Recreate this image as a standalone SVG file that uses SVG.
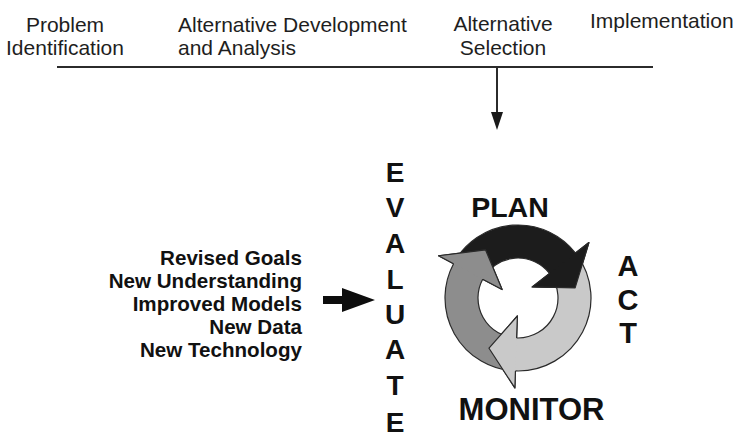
<svg xmlns="http://www.w3.org/2000/svg" xmlns:xlink="http://www.w3.org/1999/xlink" width="735" height="442" viewBox="0 0 735 442">
  <style>
    .lbl { font-family: "Liberation Sans", Arial, sans-serif; font-size: 21px; fill: #1e1e1e; }
    .bold { font-family: "Liberation Sans", Arial, sans-serif; font-weight: bold; fill: #111; }
    .lst { font-size: 20.6px; text-anchor: end; }
    .big { font-size: 28.5px; text-anchor: middle; }
    .ev { font-size: 28px; text-anchor: middle; }
    .ring { stroke: #2a2a2a; stroke-width: 1.2; stroke-linejoin: round; }
    .headedge { fill: none; stroke: #2a2a2a; stroke-width: 1.2; stroke-linejoin: round; }
    .conn { stroke: #2b2b2b; stroke-width: 2; fill: none; }
  </style>
  <defs>
    <polygon id="headTri" points="90,0 51.21,27.23 18,0"/>
    <path id="headEdge" d="M73 0 L90 0 L51.21 27.23 L18 0 L40 0"/>
  </defs>
  <rect width="735" height="442" fill="#ffffff"/>

  <g id="connectors">
    <line class="conn" x1="57" y1="67" x2="653" y2="67"/>
    <line class="conn" x1="497" y1="67" x2="497" y2="112" stroke-width="1.8"/>
    <polygon points="491,112 503,112 497,130" fill="#1a1a1a"/>
    <polygon points="323,296 342,296 342,288 375,300 342,312 342,304 323,304" fill="#0d0d0d"/>
  </g>

  <g id="problem-identification">
    <text class="lbl" x="65" y="32" text-anchor="middle">Problem</text>
    <text class="lbl" x="65" y="55" text-anchor="middle">Identification</text>
  </g>
  <g id="alternative-development">
    <text class="lbl" x="178" y="32">Alternative Development</text>
    <text class="lbl" x="178" y="55">and Analysis</text>
  </g>
  <g id="alternative-selection">
    <text class="lbl" x="503" y="31" text-anchor="middle">Alternative</text>
    <text class="lbl" x="503" y="55" text-anchor="middle">Selection</text>
  </g>
  <g id="implementation">
    <text class="lbl" x="590" y="28">Implementation</text>
  </g>

  <g id="inputs">
    <text class="bold lst" x="302" y="265">Revised Goals</text>
    <text class="bold lst" x="302" y="288">New Understanding</text>
    <text class="bold lst" x="302" y="311">Improved Models</text>
    <text class="bold lst" x="302" y="334">New Data</text>
    <text class="bold lst" x="302" y="357">New Technology</text>
  </g>

  <g id="evaluate">
    <text class="bold ev" x="395" y="182">E</text>
    <text class="bold ev" x="395" y="217">V</text>
    <text class="bold ev" x="395" y="253">A</text>
    <text class="bold ev" x="395" y="289">L</text>
    <text class="bold ev" x="395" y="324">U</text>
    <text class="bold ev" x="395" y="359">A</text>
    <text class="bold ev" x="395" y="395">T</text>
    <text class="bold ev" x="395" y="432">E</text>
  </g>

  <g id="plan">
    <text class="bold big" x="510" y="217">PLAN</text>
  </g>
  <g id="act">
    <text class="bold" x="628" y="276" font-size="29" text-anchor="middle">A</text>
    <text class="bold" x="628" y="310" font-size="29" text-anchor="middle">C</text>
    <text class="bold" x="628" y="343" font-size="29" text-anchor="middle">T</text>
  </g>
  <g id="monitor">
    <text class="bold" x="531.5" y="420" font-size="31" text-anchor="middle">MONITOR</text>
  </g>

  <g id="cycle" transform="translate(518,298)">
    <path class="ring" fill="#1c1c1c" transform="rotate(-38)" d="M-27.94 -67.44 A73 73 0 0 1 73 0 L90 0 L51.21 27.23 L18 0 L40 0 A40 40 0 0 0 -15.31 -36.96 Z"/>
    <path class="ring" fill="#c9c9c9" transform="rotate(92)" d="M-45.44 -57.13 A73 73 0 0 1 73 0 L90 0 L51.21 27.23 L18 0 L40 0 A40 40 0 0 0 -24.90 -31.30 Z"/>
    <path class="ring" fill="#8d8d8d" transform="rotate(208)" d="M-30.27 -66.43 A73 73 0 0 1 73 0 L90 0 L51.21 27.23 L18 0 L40 0 A40 40 0 0 0 -16.59 -36.40 Z"/>
    <g transform="rotate(-38)">
      <use xlink:href="#headTri" href="#headTri" fill="#1c1c1c"/>
      <use xlink:href="#headEdge" href="#headEdge" class="headedge"/>
    </g>
    <g transform="rotate(92)">
      <use xlink:href="#headTri" href="#headTri" fill="#c9c9c9"/>
      <use xlink:href="#headEdge" href="#headEdge" class="headedge"/>
    </g>
    <g transform="rotate(208)">
      <use xlink:href="#headTri" href="#headTri" fill="#8d8d8d"/>
      <use xlink:href="#headEdge" href="#headEdge" class="headedge"/>
    </g>
  </g>
</svg>
